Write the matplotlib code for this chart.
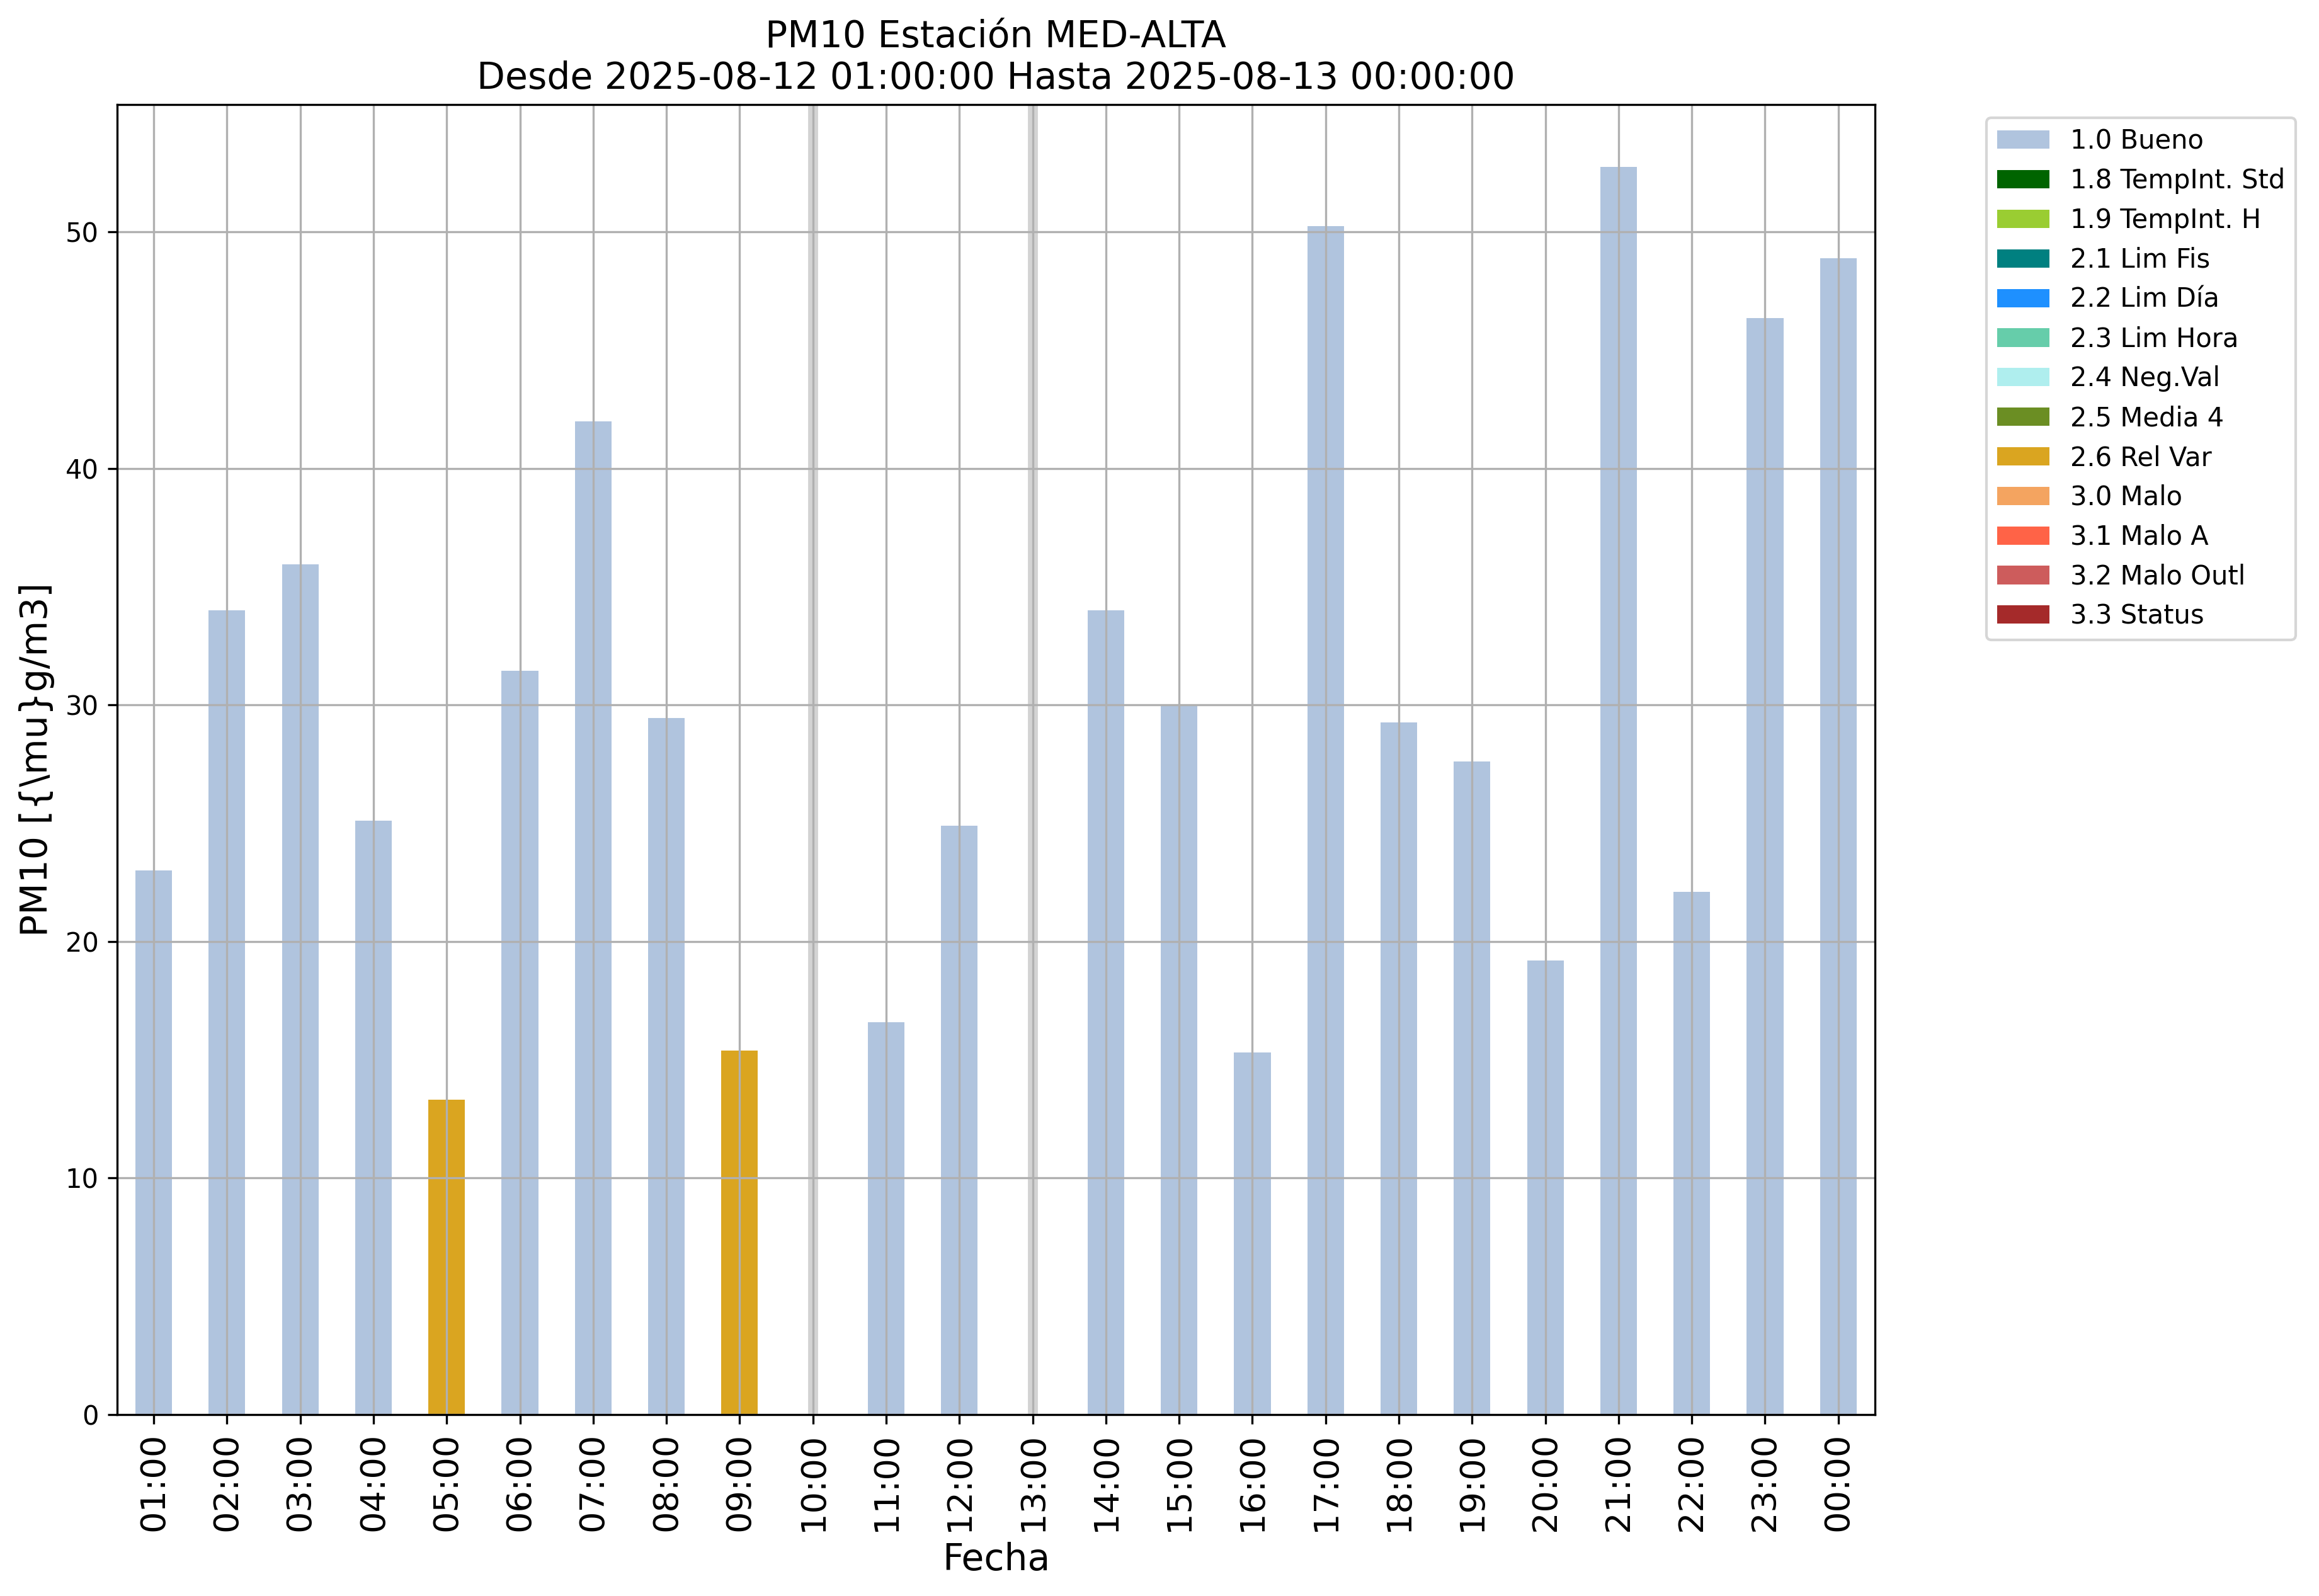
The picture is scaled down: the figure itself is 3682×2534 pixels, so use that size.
import matplotlib

matplotlib.use("Agg")
import matplotlib.pyplot as plt
import numpy as np

# hourly PM10 values, NaN = no data
horas = ["01:00", "02:00", "03:00", "04:00", "05:00", "06:00", "07:00", "08:00",
         "09:00", "10:00", "11:00", "12:00", "13:00", "14:00", "15:00", "16:00",
         "17:00", "18:00", "19:00", "20:00", "21:00", "22:00", "23:00", "00:00"]
pm10 = [23.0, 34.0, 35.95, 25.1, 13.3, 31.45, 42.0, 29.45,
        15.4, np.nan, 16.6, 24.9, np.nan, 34.0, 29.95, 15.3,
        50.25, 29.25, 27.6, 19.2, 52.75, 22.1, 46.35, 48.9]
flags = ["1.0", "1.0", "1.0", "1.0", "2.6", "1.0", "1.0", "1.0",
         "2.6", "", "1.0", "1.0", "", "1.0", "1.0", "1.0",
         "1.0", "1.0", "1.0", "1.0", "1.0", "1.0", "1.0", "1.0"]

# quality flag categories
codigos = ["1.0", "1.8", "1.9", "2.1", "2.2", "2.3", "2.4", "2.5", "2.6",
           "3.0", "3.1", "3.2", "3.3"]
etiquetas = ["1.0 Bueno", "1.8 TempInt. Std", "1.9 TempInt. H", "2.1 Lim Fis",
             "2.2 Lim Día", "2.3 Lim Hora", "2.4 Neg.Val", "2.5 Media 4",
             "2.6 Rel Var", "3.0 Malo", "3.1 Malo A", "3.2 Malo Outl", "3.3 Status"]
colores = ["lightsteelblue", "darkgreen", "yellowgreen", "teal", "dodgerblue",
           "mediumaquamarine", "paleturquoise", "olivedrab", "goldenrod",
           "sandybrown", "tomato", "indianred", "brown"]

valores = np.array(pm10, dtype=float)
flags_arr = np.array(flags)
x = np.arange(len(horas))

fig = plt.figure(figsize=(3682 / 300, 2534 / 300), dpi=300)
ax = fig.add_axes([0.0505, 0.1137, 0.7580, 0.8208])

bottom = np.zeros(len(horas))
for code, label, color in zip(codigos, etiquetas, colores):
    h = np.where(flags_arr == code, np.nan_to_num(valores), 0.0)
    ax.bar(x, h, width=0.5, bottom=bottom, color=color, label=label)
    bottom += h

# missing hours
for i in x[np.isnan(valores)]:
    ax.axvline(i, color="lightgray", lw=3.8, zorder=1)

ax.set_xlim(-0.5, len(horas) - 0.5)
ax.set_ylim(0, np.nanmax(valores) * 1.05)
ax.set_xticks(x)
ax.set_xticklabels(horas, rotation=90, fontsize=13)
ax.tick_params(axis="y", labelsize=10)
ax.grid(True)

ax.set_title("PM10 Estación MED-ALTA\nDesde 2025-08-12 01:00:00 Hasta 2025-08-13 00:00:00",
             fontsize=14)
ax.set_xlabel("Fecha", fontsize=14)
ax.set_ylabel("PM10 [{\\mu}g/m3]", fontsize=14)

ax.legend(bbox_to_anchor=(1.056, 1), loc="upper left", fontsize=10)

plt.savefig("out.png", dpi=300)
plt.close()
